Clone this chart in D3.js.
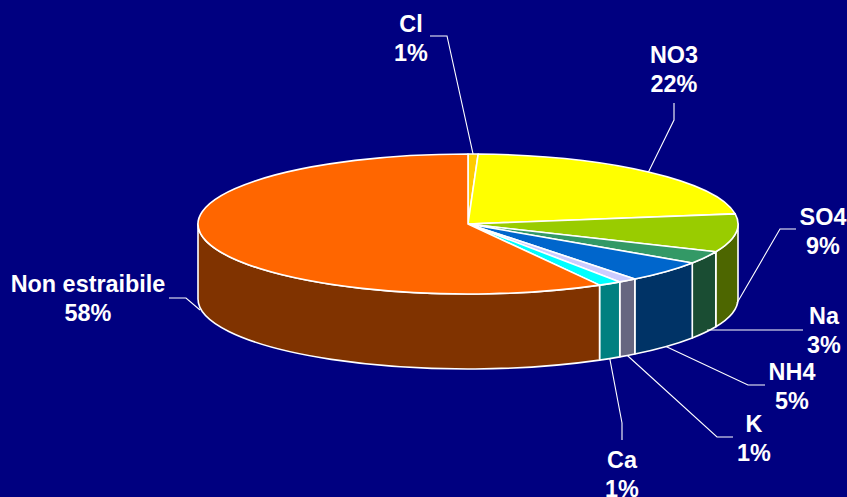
<!DOCTYPE html>
<html><head><meta charset="utf-8">
<script src="https://cdn.jsdelivr.net/npm/d3@7"></script>
<style>html,body{margin:0;padding:0;background:#000080;overflow:hidden}svg{display:block}</style>
</head><body><svg id="c" width="847" height="497"></svg>
<script>
const categories = ["Cl","NO3","SO4","Na","NH4","K","Ca","Non estraibile"];
const values = [0.6,22.1,8.8,2.9,5.0,1.1,1.4,58.1];
const topColors = ["#ffcc00","#ffff00","#99cc00","#339966","#0066cc","#ccccff","#00ffff","#ff6600"];
const wallColors = ["#806600","#808000","#4d6600","#1a4d33","#003366","#666680","#008080","#803300"];
// label layout: text centre, first baseline, elbow polyline start
const labelX = [411,674,823,824,792,754,622,88];
const labelY = [32,63,225,324,380,432,468,292];
const lineStart = [[430,36],[674,103],[796,229],[803,330],[765,385],[733,437],[622,440],[169,298]];
const lineElbow = [[447,36],[674,120],[780,229],[707,330],[748,385],[717,437],[622,423],[186,298]];
const lineEnd = [null,null,[737,303],[708,330],null,null,null,[200,310]];

const W=847,H=497,cx=468,cy=224,rx=270,ry=70,depth=75;
const svg=d3.select("#c");
const px=a=>cx+rx*Math.sin(a), py=a=>cy-ry*Math.cos(a);
const pie=d3.pie().sort(null).value(d=>d)(values);
const ell=(a0,a1,dy,rev)=>{
  const large=Math.abs(a1-a0)>Math.PI?1:0;
  return `A${rx},${ry} 0 ${large} ${rev?0:1} ${px(a1)},${py(a1)+dy}`;
};
// side walls
const HALF=Math.PI/2, END=Math.PI*1.5;
const walls=pie.map((d,i)=>{
  const a0=Math.max(d.startAngle,HALF),a1=Math.min(d.endAngle,END);
  return a1>a0?{a0,a1,i}:null;}).filter(Boolean);
svg.append("g").selectAll("path").data(walls).join("path")
  .attr("d",d=>`M${px(d.a0)},${py(d.a0)}${ell(d.a0,d.a1,0)}L${px(d.a1)},${py(d.a1)+depth}${ell(d.a1,d.a0,depth,true)}Z`)
  .attr("fill",d=>wallColors[d.i]).attr("stroke","#fff").attr("stroke-width",1.6).attr("stroke-linejoin","round");
// top
svg.append("g").selectAll("path").data(pie).join("path")
  .attr("d",d=>`M${cx},${cy}L${px(d.startAngle)},${py(d.startAngle)}${ell(d.startAngle,d.endAngle,0)}Z`)
  .attr("fill",(d,i)=>topColors[i]).attr("stroke","#fff").attr("stroke-width",1.6).attr("stroke-linejoin","round");
// leaders
const anchor=(d,i)=>{
  if(lineEnd[i]) return lineEnd[i];
  const m=(d.startAngle+d.endAngle)/2;
  const wall=m>HALF&&m<END;
  return [px(m),py(m)+(wall?depth:0)];
};
svg.append("g").selectAll("path").data(pie).join("path")
  .attr("d",(d,i)=>d3.line()([lineStart[i],lineElbow[i],anchor(d,i)]))
  .attr("fill","none").attr("stroke","#fff").attr("stroke-width",1.1);
// labels
const pct=d3.format(".0f");
const t=svg.append("g").attr("font-family","'Liberation Sans',Arial,sans-serif").attr("font-weight","bold")
  .attr("font-size",23.4).attr("fill","#fff").attr("text-anchor","middle");
categories.forEach((c,i)=>{
  t.append("text").attr("x",labelX[i]).attr("y",labelY[i]).text(c);
  t.append("text").attr("x",labelX[i]).attr("y",labelY[i]+29).text(pct(values[i])+"%");
});
</script></body></html>
